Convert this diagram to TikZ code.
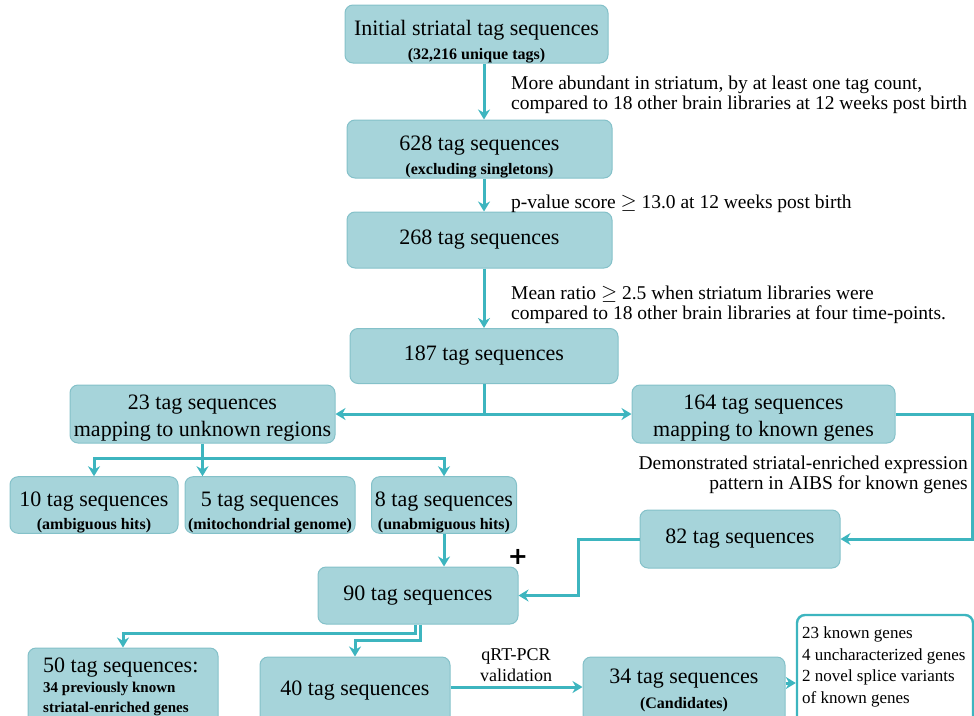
\documentclass[tikz,border=0pt]{standalone}
\usepackage{fontspec}
\setmainfont{Liberation Serif}
\newfontfamily\plusfont{DejaVu Sans}
\usetikzlibrary{arrows.meta}
\definecolor{boxfill}{HTML}{A6D4DA}
\definecolor{boxline}{HTML}{84C1C9}
\definecolor{arr}{HTML}{3DB5BF}
\newcommand{\subt}[1]{{\fontsize{16}{18}\selectfont\bfseries #1}}
\newcommand{\subs}[1]{{\fontsize{15}{18}\selectfont\bfseries #1}}
\newcommand{\upstrut}{\rule{0pt}{30pt}}
\begin{document}
\begin{tikzpicture}[x=1pt,y=-1pt,
 box/.style={draw=boxline, fill=boxfill, line width=1pt, rounded corners=8pt, inner sep=0pt, align=center, font=\fontsize{22}{25}\selectfont},
 conn/.style={draw=arr, line width=3pt, -{Stealth[length=10pt,width=12pt]}},
 lbl/.style={font=\fontsize{19.5}{20.5}\selectfont, inner sep=0pt},
 txt/.style={inner sep=0pt}
]
\useasboundingbox (0,0) rectangle (974,715);

% boxes
\node[box, minimum width=263pt, minimum height=58pt] (b1) at (476.5,34) {\upstrut Initial striatal tag sequences\\[-1pt]\subt{(32,216 unique tags)}};
\node[box, minimum width=265pt, minimum height=58pt] (b2) at (479.5,149) {\upstrut 628 tag sequences\\[-1pt]\subt{(excluding singletons)}};
\node[box, minimum width=265pt, minimum height=56pt] (b3) at (479.5,240) {268 tag sequences};
\node[box, minimum width=268pt, minimum height=55pt] (b4) at (484,356) {187 tag sequences};
\node[box, font=\fontsize{22}{27}\selectfont, minimum width=265pt, minimum height=58pt] (b5) at (202.5,414) {\rule{0pt}{22pt}23 tag sequences\\mapping to unknown regions};
\node[box, font=\fontsize{22}{27}\selectfont, minimum width=263pt, minimum height=58pt] (b6) at (763.5,414) {\rule{0pt}{22pt}164 tag sequences\\mapping to known genes};
\node[box, minimum width=168pt, minimum height=56pt] (b7) at (94,505) {\upstrut 10 tag sequences\\[-2pt]\subt{(ambiguous hits)}};
\node[box, minimum width=170pt, minimum height=56pt] (b8) at (270,505) {\upstrut 5 tag sequences\\[-2pt]\subt{(mitochondrial genome)}};
\node[box, minimum width=145pt, minimum height=56pt] (b9) at (444,505) {\upstrut 8 tag sequences\\[-2pt]\subt{(unabmiguous hits)}};
\node[box, minimum width=200pt, minimum height=58pt] (b10) at (740,539) {82 tag sequences};
\node[box, minimum width=200pt, minimum height=57pt] (b11) at (418,595.5) {90 tag sequences};
\node[box, minimum width=190pt, minimum height=82pt] (b12) at (123,689) {};
\node[box, minimum width=190pt, minimum height=73pt] (b13) at (355,693.5) {};
\node[box, minimum width=202pt, minimum height=73pt] (b14) at (684,693.5) {};
\node[box, draw=arr, fill=white, line width=2.4pt, minimum width=176pt, minimum height=115pt] (b15) at (885,672.5) {};

% texts in cut boxes
\node[txt, anchor=west, align=left, font=\fontsize{22}{20}\selectfont] (t12) at (43,687) {50 tag sequences:\\\subs{34 previously known}\\\subs{striatal-enriched genes}};
\node[txt, font=\fontsize{22}{25}\selectfont] (t13) at (355,691) {40 tag sequences};
\node[txt, align=center, font=\fontsize{22}{25}\selectfont] (t14) at (684,690) {34 tag sequences\\\subt{(Candidates)}};
\node[txt, anchor=west, align=left, font=\fontsize{17}{21.7}\selectfont] (t15) at (802,667) {23 known genes\\4 uncharacterized genes\\2 novel splice variants\\of known genes};

% labels
\node[lbl, anchor=west, align=left] (l1) at (511,95) {More abundant in striatum, by at least one tag count,\\compared to 18 other brain libraries at 12 weeks post birth};
\node[lbl, anchor=west, align=left] (l2) at (511,204) {p-value score $\geq$ 13.0 at 12 weeks post birth};
\node[lbl, anchor=west, align=left] (l3) at (511,305) {Mean ratio $\geq$ 2.5 when striatum libraries were\\compared to 18 other brain libraries at four time-points.};
\node[lbl, anchor=east, align=right] (l4) at (968,475) {Demonstrated striatal-enriched expression\\pattern in AIBS for known genes};
\node[lbl, align=center, font=\fontsize{18}{21}\selectfont] (l5) at (516,665) {qRT-PCR\\validation};
\node[txt, font=\fontsize{24}{24}\plusfont\bfseries] (plus) at (518,557) {+};

% connectors
\draw[conn] (b1.south -| b4) -- (b2.north -| b4);
\draw[conn] (b2.south -| b4) -- (b3.north -| b4);
\draw[conn] (b3.south -| b4) -- (b4.north);
\draw[conn] (b4.south) |- (b5.east);
\draw[conn] (b4.south) |- (b6.west);
\coordinate (j2) at (202.5,458);
\draw[conn] (b5.south) -- (b5.south |- b8.north);
\draw[conn] (j2) -| (b7.north);
\draw[conn] (j2) -| (b9.north);
\draw[conn] (b9.south) -- (b9.south |- b11.north);
\coordinate (c1) at (972.5,414);
\draw[conn] (b6.east) -- (c1) |- (b10.east);
\coordinate (c2) at (578,539);
\draw[conn] (b10.west) -- (c2) |- (b11.east);
\coordinate (c3) at (415,633);
\draw[conn] (b11.south -| c3) -- (c3) -| (b12.north);
\coordinate (c4) at (420,640);
\draw[conn] (b11.south -| c4) -- (c4) -| (b13.north);
\coordinate (c5) at (0,687);
\draw[conn] (b13.east |- c5) -- (b14.west |- c5);
\coordinate (c6) at (0,683);
\draw[conn] (b14.east |- c6) -- (b15.west |- c6);
\end{tikzpicture}
\end{document}
